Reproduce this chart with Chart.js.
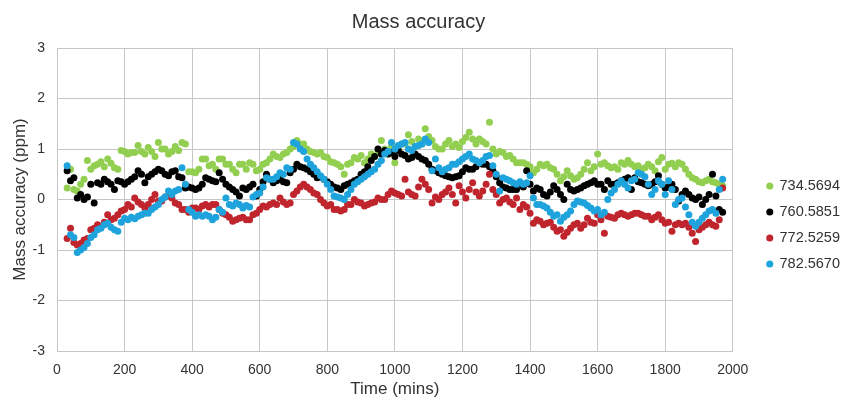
<!DOCTYPE html>
<html><head><meta charset="utf-8">
<script src="https://cdn.jsdelivr.net/npm/chart.js@4.4.1/dist/chart.umd.min.js"></script>
<style>html,body{margin:0;padding:0;background:#fff;}</style>
</head><body>
<canvas id="c" width="845" height="400"></canvas>
<script>
const times = [30,40,50,60,70,80,90,100,110,120,130,140,150,160,170,180,190,200,210,220,
230,240,250,260,270,280,290,300,310,320,330,340,350,360,370,380,390,400,410,420,
430,440,450,460,470,480,490,500,510,520,530,540,550,560,570,580,590,600,610,620,
630,640,650,660,670,680,690,700,710,720,730,740,750,760,770,780,790,800,810,820,
830,840,850,860,870,880,890,900,910,920,930,940,950,960,970,980,990,1000,1010,1020,
1030,1040,1050,1060,1070,1080,1090,1100,1110,1120,1130,1140,1150,1160,1170,1180,1190,1200,1210,1220,
1230,1240,1250,1260,1270,1280,1290,1300,1310,1320,1330,1340,1350,1360,1370,1380,1390,1400,1410,1420,
1430,1440,1450,1460,1470,1480,1490,1500,1510,1520,1530,1540,1550,1560,1570,1580,1590,1600,1610,1620,
1630,1640,1650,1660,1670,1680,1690,1700,1710,1720,1730,1740,1750,1760,1770,1780,1790,1800,1810,1820,
1830,1840,1850,1860,1870,1880,1890,1900,1910,1920,1930,1940,1950,1960,1970];

const seriesNames = ['734.5694','760.5851','772.5259','782.5670'];

const mz734 = [0.23,0.6,0.2,0.17,0.3,0.4,0.77,0.6,0.67,0.7,
0.75,0.65,0.8,0.72,0.63,0.6,0.97,0.95,0.9,0.93,
0.93,1.07,0.95,0.9,1.03,0.95,0.85,1.13,1.0,1.0,
0.9,0.95,1.05,0.97,1.13,1.1,0.55,0.55,0.53,0.6,
0.8,0.8,0.67,0.7,0.6,0.8,0.8,0.7,0.7,0.6,
0.53,0.7,0.7,0.6,0.73,0.7,0.57,0.6,0.7,0.73,
0.8,0.9,0.85,0.83,0.9,0.93,1.0,1.05,1.17,1.1,
1.1,1.0,0.95,0.93,0.9,0.93,0.85,0.83,0.75,0.73,
0.7,0.65,0.5,0.7,0.73,0.83,0.8,0.87,0.73,0.8,
0.9,0.85,0.95,1.17,1.0,0.9,1.05,0.73,1.0,1.1,
1.1,1.28,1.15,1.05,1.2,1.1,1.4,1.25,1.17,1.05,
1.0,1.0,1.1,1.17,1.05,1.1,1.03,1.15,1.23,1.33,
1.2,1.1,1.2,1.15,1.1,1.53,1.0,0.9,0.95,0.93,
0.85,0.87,0.8,0.73,0.73,0.73,0.7,0.65,0.53,0.6,
0.7,0.67,0.7,0.63,0.6,0.5,0.37,0.45,0.57,0.47,
0.4,0.43,0.5,0.6,0.73,0.57,0.65,0.9,0.7,0.73,
0.67,0.63,0.65,0.6,0.73,0.7,0.77,0.7,0.65,0.67,
0.6,0.63,0.7,0.65,0.57,0.75,0.83,0.6,0.7,0.72,
0.65,0.73,0.7,0.6,0.5,0.43,0.4,0.35,0.33,0.37,
0.4,0.35,0.33,0.3,0.27];

const mz760 = [0.57,0.37,0.43,0.03,0.1,0.0,0.05,0.3,-0.07,0.33,
0.3,0.4,0.35,0.3,0.2,0.37,0.35,0.3,0.35,0.4,
0.45,0.57,0.5,0.33,0.45,0.5,0.55,0.6,0.57,0.5,
0.47,0.55,0.57,0.45,0.43,0.23,0.25,0.23,0.2,0.23,
0.3,0.43,0.4,0.37,0.35,0.53,0.4,0.3,0.25,0.2,
0.15,0.07,0.23,0.2,0.25,0.3,0.07,0.2,0.35,0.5,
0.4,0.33,0.37,0.4,0.35,0.33,0.53,0.6,0.7,0.65,
0.63,0.6,0.55,0.5,0.43,0.45,0.4,0.35,0.3,0.25,
0.23,0.2,0.27,0.3,0.33,0.37,0.4,0.5,0.55,0.65,
0.77,0.85,1.0,0.9,0.97,0.9,0.93,0.85,0.97,0.9,
0.87,0.8,0.83,0.9,0.85,0.8,0.77,0.7,0.6,0.57,
0.53,0.5,0.47,0.45,0.43,0.45,0.47,0.55,0.63,0.6,
0.6,0.65,0.73,0.7,0.7,0.65,0.57,0.45,0.33,0.25,
0.23,0.2,0.2,0.2,0.3,0.25,0.57,0.3,0.17,0.23,
0.2,0.1,0.07,0.15,0.27,0.2,0.1,0.0,0.3,0.2,
0.17,0.2,0.23,0.27,0.3,0.33,0.37,0.3,0.3,0.2,
0.37,0.3,0.3,0.33,0.37,0.4,0.43,0.2,0.43,0.35,
0.33,0.3,0.27,0.3,0.35,0.47,0.3,0.23,0.25,0.3,
0.2,-0.03,0.1,0.17,0.1,0.03,0.0,0.05,-0.1,0.0,
0.1,0.5,0.07,-0.2,-0.25];

const mz772 = [-0.77,-0.57,-0.85,-0.9,-0.87,-0.8,-0.77,-0.6,-0.57,-0.5,
-0.55,-0.45,-0.3,-0.4,-0.37,-0.3,-0.23,-0.2,-0.1,-0.15,
0.03,-0.05,-0.1,-0.17,-0.1,0.0,0.1,-0.03,-0.03,0.05,
0.07,0.03,-0.07,-0.1,-0.2,-0.2,-0.25,-0.17,-0.17,-0.2,
-0.13,-0.1,-0.15,-0.1,-0.1,-0.2,-0.27,-0.3,-0.35,-0.43,
-0.4,-0.37,-0.35,-0.4,-0.4,-0.3,-0.27,-0.2,-0.13,-0.15,
-0.1,-0.07,-0.1,0.03,-0.05,-0.1,-0.07,0.1,0.17,0.25,
0.3,0.25,0.2,0.13,0.1,0.0,-0.07,-0.13,-0.1,-0.2,
-0.2,-0.23,-0.2,-0.1,-0.1,0.0,-0.05,-0.07,-0.13,-0.1,
-0.07,-0.05,0.03,0.0,0.0,0.1,0.17,0.13,0.1,0.07,
0.4,0.15,0.1,0.07,0.25,0.4,0.3,0.2,-0.07,0.05,
0.0,0.1,0.15,0.23,0.1,-0.07,0.27,0.15,0.03,0.2,
0.33,0.15,0.07,0.17,0.3,0.5,0.2,0.1,-0.07,0.0,
0.03,-0.05,-0.1,0.03,-0.2,-0.1,-0.15,-0.27,-0.47,-0.4,
-0.43,-0.5,-0.47,-0.45,-0.55,-0.63,-0.6,-0.73,-0.65,-0.57,
-0.5,-0.47,-0.57,-0.5,-0.37,-0.45,-0.47,-0.3,-0.4,-0.67,
-0.33,-0.35,-0.37,-0.3,-0.27,-0.3,-0.33,-0.3,-0.27,-0.27,
-0.3,-0.33,-0.33,-0.4,-0.35,-0.3,-0.4,-0.47,-0.45,-0.63,
-0.5,-0.47,-0.5,-0.47,-0.55,-0.67,-0.83,-0.6,-0.55,-0.5,
-0.45,-0.5,-0.53,-0.4,0.23];

const mz782 = [0.67,-0.7,-0.75,-1.05,-1.0,-0.95,-0.87,-0.75,-0.7,-0.6,
-0.57,-0.5,-0.47,-0.55,-0.6,-0.63,-0.45,-0.37,-0.4,-0.35,
-0.38,-0.33,-0.3,-0.27,-0.27,-0.2,-0.15,-0.1,0.0,0.05,
0.17,0.1,0.17,0.2,0.63,0.3,-0.2,-0.25,-0.33,-0.3,
-0.33,-0.3,-0.33,-0.4,-0.35,-0.2,-0.25,0.03,-0.1,-0.13,
-0.07,-0.1,-0.17,-0.12,-0.15,0.05,0.1,0.13,0.25,0.43,
0.4,0.4,0.45,0.53,0.5,0.63,0.6,1.13,1.1,1.0,
0.95,0.8,0.7,0.63,0.55,0.47,0.4,0.3,0.2,0.07,
0.05,0.03,0.0,0.1,0.2,0.3,0.35,0.4,0.45,0.5,
0.55,0.6,0.7,0.77,0.9,0.95,1.13,1.0,1.07,1.1,
1.13,1.0,0.97,1.05,1.07,1.1,1.2,1.13,0.57,0.8,
0.63,0.55,0.6,0.63,0.7,0.7,0.75,0.8,0.85,0.9,
0.8,0.77,0.73,0.77,0.85,0.87,0.67,0.5,0.17,0.43,
0.4,0.37,0.33,0.3,0.35,0.3,0.33,0.47,0.03,-0.1,
-0.1,-0.13,-0.17,-0.25,-0.33,-0.3,-0.43,-0.35,-0.3,-0.23,
-0.1,-0.03,-0.05,-0.07,-0.12,-0.17,-0.23,-0.2,-0.3,-0.25,
0.0,0.13,0.2,0.3,0.37,0.3,0.23,0.37,0.4,0.53,
0.5,0.45,0.3,0.1,0.2,0.37,0.3,0.1,0.37,0.2,
-0.1,0.0,0.03,-0.15,-0.3,-0.45,-0.53,-0.45,-0.37,-0.3,
-0.23,-0.2,-0.27,0.2,0.4];

const xTickValues = [0,200,400,600,800,1000,1200,1400,1600,1800,2000];
const yTickValues = [-3,-2,-1,0,1,2,3];

const colors = ['#92cf50','#000000','#c0252d','#1ea3dc'];
const drawOrder = [4,3,2,1];
const allValues = [mz734, mz760, mz772, mz782];

const FONT = "'Liberation Sans', Arial, sans-serif";
const TXT = '#333333';
const GRID = '#c6c6c6';

const datasets = allValues.map((vals, k) => ({
  label: seriesNames[k],
  data: vals.map((v, i) => ({x: times[i], y: v})),
  backgroundColor: colors[k],
  borderColor: colors[k],
  borderWidth: 0,
  pointRadius: 3.5,
  pointHoverRadius: 3.5,
  order: drawOrder[k]
}));

// nudges the legend block away from the plot area, like the reference
const legendShift = {
  id: 'legendShift',
  afterLayout(chart) {
    const lg = chart.legend;
    if (!lg) return;
    lg.left += 23; lg.right += 23;
    lg.top += 25; lg.bottom += 25;
  }
};

new Chart(document.getElementById('c'), {
  type: 'scatter',
  data: { datasets },
  plugins: [legendShift],
  options: {
    responsive: false,
    animation: false,
    devicePixelRatio: 1,
    layout: { padding: { left: 10, right: 18, top: 0, bottom: 0 } },
    plugins: {
      tooltip: { enabled: false },
      title: {
        display: true, text: 'Mass accuracy', color: TXT,
        font: { family: FONT, size: 20, weight: 'normal' },
        padding: { top: 10, bottom: 14 }
      },
      legend: {
        position: 'right', align: 'center',
        labels: {
          usePointStyle: true, pointStyle: 'circle',
          boxWidth: 5, boxHeight: 5, padding: 11.5, color: TXT,
          font: { family: FONT, size: 14.5 },
          sort: (a, b) => a.datasetIndex - b.datasetIndex
        }
      }
    },
    scales: {
      x: {
        type: 'linear', min: 0, max: 2000,
        afterBuildTicks: (s) => { s.ticks = xTickValues.map(v => ({value: v})); },
        afterFit: (s) => { s.height = 49; },
        ticks: { color: TXT, font: { family: FONT, size: 14 }, padding: 11, callback: (v) => String(v) },
        grid: { color: GRID, drawTicks: false, lineWidth: 1 },
        border: { color: GRID },
        title: { display: true, text: 'Time (mins)', color: TXT, font: { family: FONT, size: 17 }, padding: { top: 0, bottom: 0 } }
      },
      y: {
        type: 'linear', min: -3, max: 3,
        afterBuildTicks: (s) => { s.ticks = yTickValues.map(v => ({value: v})); },
        afterFit: (s) => { s.width = 47; },
        ticks: { color: TXT, font: { family: FONT, size: 14 }, padding: 12, callback: (v) => String(v) },
        grid: { color: GRID, drawTicks: false, lineWidth: 1 },
        border: { color: GRID },
        title: { display: true, text: 'Mass accuracy (ppm)', color: TXT, font: { family: FONT, size: 17 }, padding: { top: 0, bottom: 0 } }
      }
    }
  }
});
</script>
</body></html>
